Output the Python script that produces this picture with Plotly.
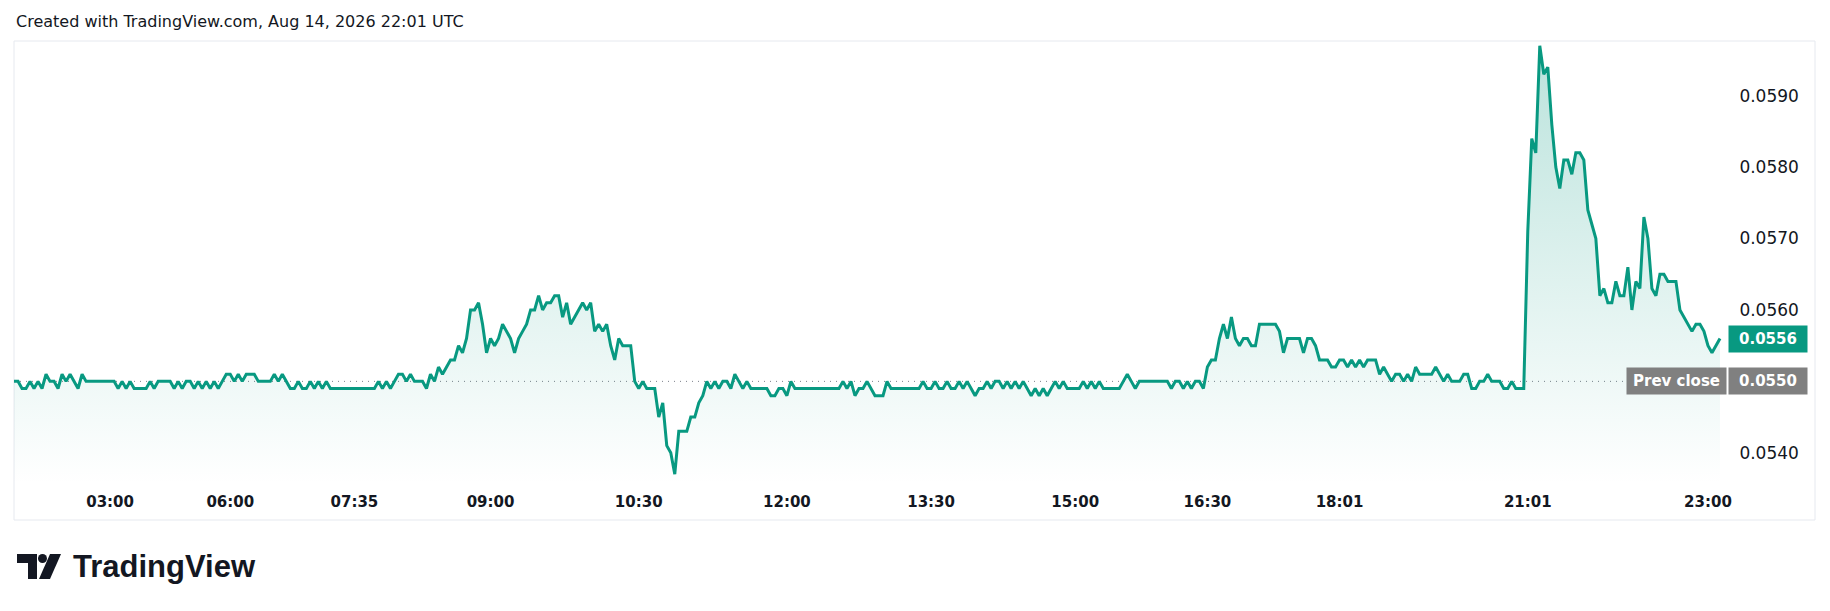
import plotly.graph_objects as go

# ---------------------------------------------------------------- data
# one value per bar (price in USD)

seg_early = [
    0.0550, 0.0550, 0.0549, 0.0549, 0.0550, 0.0549, 0.0550, 0.0549, 0.0551, 0.0550,
    0.0550, 0.0549, 0.0551, 0.0550, 0.0551, 0.0550, 0.0549, 0.0551, 0.0550, 0.0550,
    0.0550, 0.0550, 0.0550, 0.0550, 0.0550, 0.0550, 0.0549, 0.0550, 0.0549, 0.0550,
    0.0549, 0.0549, 0.0549, 0.0549, 0.0550, 0.0549, 0.0550, 0.0550, 0.0550, 0.0550,
    0.0549, 0.0550, 0.0549, 0.0550, 0.0550, 0.0549, 0.0550, 0.0549, 0.0550, 0.0549,
    0.0550, 0.0549, 0.0550,
]
seg_morning = [
    0.0551, 0.0551, 0.0550, 0.0551, 0.0550, 0.0551, 0.0551, 0.0551, 0.0550, 0.0550,
    0.0550, 0.0550, 0.0551, 0.0550, 0.0551, 0.0550, 0.0549, 0.0549, 0.0550, 0.0549,
    0.0549, 0.0550, 0.0549, 0.0550, 0.0549, 0.0550, 0.0549, 0.0549, 0.0549, 0.0549,
    0.0549, 0.0549, 0.0549, 0.0549, 0.0549, 0.0549, 0.0549, 0.0549, 0.0550, 0.0549,
    0.0550, 0.0549, 0.0550, 0.0551, 0.0551, 0.0550, 0.0551, 0.0550, 0.0550, 0.0550,
    0.0549, 0.0551,
]
seg_rally = [
    0.0550, 0.0552, 0.0551, 0.0552, 0.0553, 0.0553, 0.0555, 0.0554, 0.0556, 0.0560,
    0.0560, 0.0561, 0.0558, 0.0554, 0.0556, 0.0555, 0.0556, 0.0558, 0.0557, 0.0556,
    0.0554, 0.0556, 0.0557, 0.0558, 0.0560, 0.0560, 0.0562, 0.0560, 0.0561, 0.0561,
    0.0562, 0.0562, 0.0559, 0.0561, 0.0558, 0.0559, 0.0560, 0.0561, 0.0560, 0.0561,
    0.0557, 0.0558, 0.0557, 0.0558, 0.0555, 0.0553, 0.0556, 0.0555, 0.0555, 0.0555,
]
seg_dip = [
    0.0550, 0.0549, 0.0550, 0.0549, 0.0549, 0.0549, 0.0545, 0.0547, 0.0541, 0.0540,
    0.0537, 0.0543, 0.0543, 0.0543, 0.0545, 0.0545, 0.0547, 0.0548, 0.0550, 0.0549,
    0.0550, 0.0549, 0.0550, 0.0550, 0.0549, 0.0551, 0.0550,
]
seg_midday = [
    0.0549, 0.0550, 0.0549, 0.0549, 0.0549, 0.0549, 0.0549, 0.0548, 0.0548, 0.0549,
    0.0549, 0.0548, 0.0550, 0.0549, 0.0549, 0.0549, 0.0549, 0.0549, 0.0549, 0.0549,
    0.0549, 0.0549, 0.0549, 0.0549, 0.0549, 0.0550, 0.0549, 0.0550, 0.0548, 0.0549,
    0.0549, 0.0550, 0.0549, 0.0548, 0.0548, 0.0548, 0.0550, 0.0549, 0.0549, 0.0549,
    0.0549, 0.0549, 0.0549, 0.0549, 0.0549, 0.0550, 0.0549, 0.0549, 0.0550, 0.0549,
    0.0549, 0.0550, 0.0549, 0.0549, 0.0550, 0.0549, 0.0550, 0.0549, 0.0548, 0.0549,
    0.0549, 0.0550, 0.0549, 0.0550, 0.0550, 0.0549, 0.0550, 0.0549, 0.0550, 0.0549,
    0.0550, 0.0549, 0.0548, 0.0549, 0.0548, 0.0549, 0.0548, 0.0549, 0.0550, 0.0549,
    0.0550, 0.0549, 0.0549, 0.0549, 0.0549, 0.0550, 0.0549, 0.0550, 0.0549, 0.0550,
    0.0549, 0.0549, 0.0549, 0.0549, 0.0549, 0.0550, 0.0551, 0.0550, 0.0549, 0.0550,
    0.0550, 0.0550, 0.0550, 0.0550, 0.0550, 0.0550, 0.0550, 0.0549, 0.0550, 0.0550,
    0.0549, 0.0550, 0.0549, 0.0550, 0.0550, 0.0549,
]
seg_afternoon = [
    0.0552, 0.0553, 0.0553, 0.0556, 0.0558, 0.0556, 0.0559, 0.0556, 0.0555, 0.0556,
    0.0556, 0.0555, 0.0555, 0.0558, 0.0558, 0.0558, 0.0558, 0.0558, 0.0557, 0.0554,
    0.0556, 0.0556, 0.0556, 0.0556, 0.0554, 0.0556, 0.0556, 0.0555, 0.0553, 0.0553,
    0.0553, 0.0552, 0.0552, 0.0553, 0.0553, 0.0552, 0.0553, 0.0552, 0.0553, 0.0552,
    0.0553, 0.0553, 0.0553, 0.0551, 0.0552, 0.0551, 0.0550, 0.0551, 0.0551, 0.0550,
    0.0551, 0.0550, 0.0552, 0.0551, 0.0551, 0.0551, 0.0551, 0.0552, 0.0551, 0.0550,
    0.0551, 0.0550, 0.0550, 0.0550, 0.0551, 0.0551, 0.0549, 0.0549, 0.0550, 0.0550,
    0.0551, 0.0550, 0.0550, 0.0550, 0.0549, 0.0549, 0.0550, 0.0549, 0.0549, 0.0549,
]
seg_evening = [
    0.0571, 0.0584, 0.0582, 0.0597, 0.0593, 0.0594, 0.0586, 0.0580, 0.0577, 0.0581,
    0.0581, 0.0579, 0.0582, 0.0582, 0.0581, 0.0574, 0.0572, 0.0570, 0.0562, 0.0563,
    0.0561, 0.0561, 0.0564, 0.0562, 0.0562, 0.0566, 0.0560, 0.0564, 0.0563, 0.0573,
    0.0570, 0.0563, 0.0562, 0.0565, 0.0565, 0.0564, 0.0564, 0.0564, 0.0560, 0.0559,
    0.0558, 0.0557, 0.0558, 0.0558, 0.0557, 0.0555, 0.0554, 0.0555, 0.0556,
]

prices = seg_early + seg_morning + seg_rally + seg_dip + seg_midday + seg_afternoon + seg_evening
bars = list(range(len(prices)))

# time axis labels (bar index -> label); the axis is bar based so gaps collapse
tick_bars = [24, 54, 85, 119, 156, 193, 229, 265, 298, 331, 378, 423]
tick_text = ["03:00", "06:00", "07:35", "09:00", "10:30", "12:00",
             "13:30", "15:00", "16:30", "18:01", "21:01", "23:00"]

price_ticks = [0.0540, 0.0560, 0.0570, 0.0580, 0.0590]
prev_close = 0.0550
last_price = prices[-1]

title_text = "Created with TradingView.com, Aug 14, 2026 22:01 UTC"

# ---------------------------------------------------------------- layout numbers
# positions below are screenshot pixels; the html page adds an 8px body margin
W, H = 1830, 611
OFF = 8
L, R, T, B = 14, 1728, 41, 484      # pane edges
TEAL = "#089981"
GREY = "#808080"
INK = "#131722"
FONT = "DejaVu Sans"


def px(x):
    return (x - L) / (R - L)


def py(y):
    return (B - y) / (B - T)


fig = go.Figure()

fig.add_trace(go.Scatter(
    x=bars, y=prices, mode="lines",
    line=dict(color=TEAL, width=3),
    fill="tozeroy",
    fillgradient=dict(type="vertical",
                      colorscale=[[0, "rgba(8,153,129,0.0)"],
                                  [1, "rgba(8,153,129,0.28)"]],
                      start=0.05356, stop=0.05977),
    hoverinfo="skip", showlegend=False,
))

shapes = [
    # outer frame
    dict(type="rect", xref="paper", yref="paper",
         x0=px(14), x1=px(1815), y0=py(520), y1=py(41),
         line=dict(color="#e6e9ef", width=1), layer="below"),
    # prev close dotted line
    dict(type="line", xref="paper", yref="y",
         x0=0, x1=px(1628), y0=prev_close, y1=prev_close,
         line=dict(color="#7d808a", width=1, dash="1px,5px"), layer="below"),
    # logo mark
    dict(type="path", xref="paper", yref="paper",
         path="M{},{} L{},{} L{},{} L{},{} L{},{} L{},{} Z".format(
             px(17), py(554), px(37), py(554), px(37), py(579),
             px(28), py(579), px(28), py(563), px(17), py(563)),
         fillcolor=INK, line=dict(width=0)),
    dict(type="circle", xref="paper", yref="paper",
         x0=px(38), x1=px(47), y0=py(563), y1=py(554),
         fillcolor=INK, line=dict(width=0)),
    dict(type="path", xref="paper", yref="paper",
         path="M{},{} L{},{} L{},{} L{},{} Z".format(
             px(50), py(554), px(61), py(554), px(50), py(579), px(39), py(579)),
         fillcolor=INK, line=dict(width=0)),
]

badge_font = dict(family=FONT, size=15, color="white", weight="bold")
annotations = [
    dict(text=title_text, xref="paper", yref="paper", x=px(14), y=py(21),
         xanchor="left", yanchor="middle", showarrow=False,
         font=dict(family=FONT, size=16, color=INK)),
    dict(text="TradingView", xref="paper", yref="paper", x=px(71), y=py(566),
         xanchor="left", yanchor="middle", showarrow=False,
         font=dict(family="Liberation Sans", size=31, color=INK, weight="bold")),
    # last price badge
    dict(text=f"{last_price:.4f}", xref="paper", yref="y", x=px(1728), y=last_price,
         xanchor="left", yanchor="middle", showarrow=False,
         bgcolor=TEAL, width=78, height=26, borderpad=0, font=badge_font),
    # prev close badges
    dict(text=f"{prev_close:.4f}", xref="paper", yref="y", x=px(1728), y=prev_close,
         xanchor="left", yanchor="middle", showarrow=False,
         bgcolor=GREY, width=78, height=26, borderpad=0, font=badge_font),
    dict(text="Prev close", xref="paper", yref="y", x=px(1727), y=prev_close,
         xanchor="right", yanchor="middle", showarrow=False,
         bgcolor=GREY, width=99, height=26, borderpad=0, font=badge_font),
]

fig.update_layout(
    width=W, height=H,
    margin=dict(l=L - OFF, r=W - (R - OFF), t=T - OFF, b=H - (B - OFF)),
    paper_bgcolor="white", plot_bgcolor="white",
    hovermode=False,
    shapes=shapes, annotations=annotations,
    xaxis=dict(range=[0, 428], tickvals=tick_bars, ticktext=tick_text,
               showgrid=False, zeroline=False, showline=False,
               ticks="outside", ticklen=4, tickcolor="rgba(0,0,0,0)",
               tickfont=dict(family=FONT, size=15, color=INK, weight="bold")),
    yaxis=dict(range=[0.053563, 0.059766], side="right",
               tickvals=price_ticks, ticktext=[f"{v:.4f}" for v in price_ticks],
               showgrid=False, zeroline=False, showline=False,
               ticks="outside", ticklen=7, tickcolor="rgba(0,0,0,0)",
               tickfont=dict(family=FONT, size=17, color=INK)),
)

fig.write_html("out.html")
